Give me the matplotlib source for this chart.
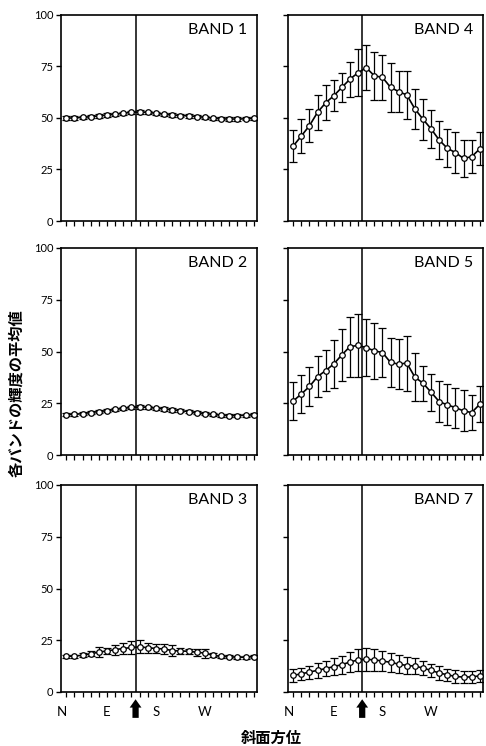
import matplotlib
matplotlib.use("Agg")
import matplotlib.pyplot as plt
import matplotlib.transforms as mtransforms
import numpy as np

# ---- data (24 slope-aspect classes, N -> E -> S -> W) ----
band_names = ["BAND 1", "BAND 4", "BAND 2", "BAND 5", "BAND 3", "BAND 7"]

band1 = [50.0, 50.0, 50.3, 50.6, 51.0, 51.4, 51.8, 52.3, 52.8, 52.9, 52.7, 52.3,
         51.8, 51.4, 51.2, 51.0, 50.7, 50.3, 49.9, 49.6, 49.5, 49.5, 49.6, 49.8]
band1_sd = [0.8] * 24

band2 = [19.5, 19.6, 20.0, 20.5, 21.0, 21.4, 22.0, 22.5, 23.0, 23.2, 23.0, 22.6,
         22.2, 21.8, 21.4, 21.0, 20.5, 20.0, 19.6, 19.2, 19.0, 19.0, 19.2, 19.4]
band2_sd = [0.8] * 24

band3 = [17.3, 17.3, 17.8, 18.4, 19.3, 19.8, 20.5, 21.0, 21.5, 21.8, 21.4, 21.0,
         20.8, 20.0, 19.8, 19.7, 19.2, 18.8, 17.7, 17.2, 17.0, 16.8, 16.8, 17.1]
band3_sd = [0.8, 0.8, 1.0, 1.2, 2.2, 1.5, 2.4, 2.6, 3.0, 3.2, 2.4, 2.3,
            2.6, 2.8, 1.5, 1.2, 1.8, 2.2, 1.0, 0.8, 0.8, 0.8, 0.8, 0.8]

band4 = [36.4, 41.3, 46.3, 52.8, 57.4, 60.8, 64.9, 68.9, 72.0, 74.4, 70.5, 69.7,
         64.9, 62.8, 61.2, 54.4, 49.4, 44.7, 39.3, 35.3, 33.2, 30.4, 31.2, 35.0]
band4_sd = [7.7, 8.2, 8.1, 8.6, 8.6, 7.5, 7.0, 8.5, 11.5, 11.0, 11.7, 11.0,
            12.0, 10.0, 11.5, 9.5, 10.0, 9.3, 9.3, 9.2, 9.8, 8.9, 8.0, 8.0]

band5 = [26.1, 29.5, 33.1, 37.9, 40.8, 44.0, 48.4, 52.4, 52.9, 51.9, 50.3, 49.5,
         44.7, 43.9, 44.4, 37.6, 34.7, 30.3, 25.8, 24.2, 22.9, 21.3, 20.5, 24.5]
band5_sd = [9.1, 9.1, 9.3, 10.0, 10.0, 11.7, 12.7, 14.5, 15.0, 13.7, 13.7, 12.0,
            12.0, 12.0, 13.3, 11.5, 8.5, 8.9, 10.0, 9.9, 9.7, 9.9, 8.5, 8.6]

band7 = [8.0, 8.8, 9.6, 10.5, 11.3, 12.3, 13.2, 14.5, 15.5, 15.8, 15.5, 15.0,
         14.3, 13.5, 12.8, 12.5, 11.6, 10.4, 9.2, 8.3, 7.5, 7.2, 7.3, 7.8]
band7_sd = [3.0, 3.0, 3.2, 3.5, 3.7, 4.0, 4.3, 4.8, 5.2, 5.5, 5.3, 5.0,
            4.5, 4.2, 4.0, 3.8, 3.5, 3.3, 3.2, 3.0, 3.0, 2.9, 2.9, 2.9]

series = [(band1, band1_sd), (band4, band4_sd), (band2, band2_sd),
          (band5, band5_sd), (band3, band3_sd), (band7, band7_sd)]

dir_labels = ["N", "E", "S", "W"]
dir_pos = [-0.5, 5.0, 11.0, 17.0]
sun_pos = 8.5
yticks = [0, 25, 50, 75, 100]

latin = ["Lato", "DejaVu Sans"]
cjk = ["Noto Sans CJK JP", "DejaVu Sans"]

fig = plt.figure(figsize=(4.86, 7.46), dpi=100)
W, H = 486.0, 746.0

cols = [(61, 196), (288, 195)]
rows = [(15, 206), (248, 207), (485, 207)]

x = np.arange(24)
for k, ((vals, sd), name) in enumerate(zip(series, band_names)):
    r, c = divmod(k, 2)
    left, width = cols[c]
    top, height = rows[r]
    ax = fig.add_axes([left / W, 1 - (top + height) / H, width / W, height / H])
    ax.errorbar(x, vals, yerr=sd, fmt="none", ecolor="black", elinewidth=0.9,
                capsize=3, capthick=0.9, zorder=2)
    ax.plot(x, vals, color="black", lw=1.2, marker="o", markersize=4.0,
            markerfacecolor="white", markeredgecolor="black", markeredgewidth=0.9,
            zorder=3)
    ax.axvline(sun_pos, color="black", lw=1.1, zorder=1)
    ax.set_xlim(-0.65, 23.4)
    ax.set_ylim(0, 100)
    ax.set_xticks(x)
    ax.set_xticklabels([])
    ax.set_yticks(yticks)
    if c == 0:
        ax.set_yticklabels([str(t) for t in yticks], fontsize=8, family=latin)
    else:
        ax.set_yticklabels([])
    ax.tick_params(axis="x", direction="out", length=3.5, width=0.9, pad=2)
    ax.tick_params(axis="y", direction="out", length=3.5, width=1.0, pad=2)
    for sp in ax.spines.values():
        sp.set_linewidth(1.2)
        sp.set_color("black")
    ax.text(0.648, 0.927, name, transform=ax.transAxes, ha="left", va="center",
            fontsize=11.5, family=latin)
    if r == 2:
        trans = mtransforms.blended_transform_factory(ax.transData, ax.transAxes)
        for lab, p in zip(dir_labels, dir_pos):
            ax.text(p, -0.095, lab, transform=trans, ha="center", va="center",
                    fontsize=9.5, family=latin)
        ax.annotate("", xy=(sun_pos, -0.035), xytext=(sun_pos, -0.125),
                    xycoords=trans, textcoords=trans,
                    arrowprops=dict(arrowstyle="simple,head_length=0.6,head_width=0.85,tail_width=0.45",
                                    color="black", lw=0, shrinkA=0, shrinkB=0),
                    annotation_clip=False)

fig.text(16.5 / W, 1 - 393 / H, "各バンドの輝度の平均値", rotation=90,
         ha="center", va="center", fontsize=11, fontweight="bold", family=cjk)
fig.text(271 / W, 1 - 738 / H, "斜面方位", ha="center", va="center",
         fontsize=11, fontweight="bold", family=cjk)

fig.savefig("out.png", dpi=100)
